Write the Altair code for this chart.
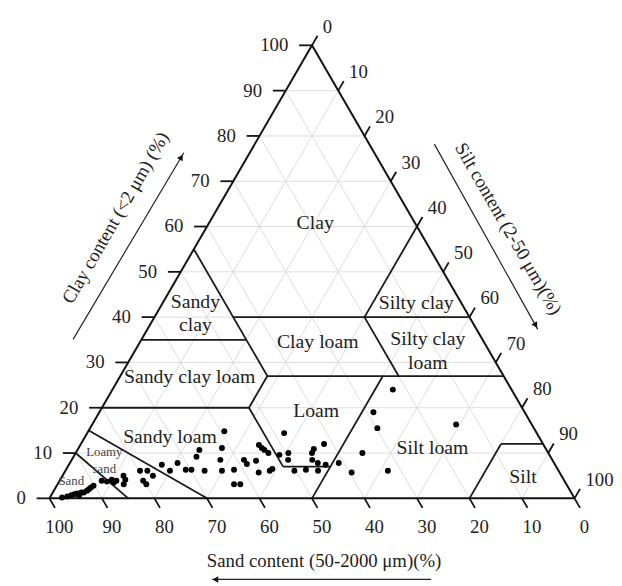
import altair as alt
import pandas as pd

# ---------------- data ----------------
# soil samples: clay and silt content (%); sand = 100 - clay - silt
clay = [0.2, 0.7, 0.9, 0.7, 1.3, 1.3, 1.7, 2.4, 2.8, 1.1, 2.0, 0.4,
        3.9, 3.7, 4.1, 3.5, 3.9, 5.0, 4.1, 3.1,
        6.1, 6.1, 5.0, 3.9, 3.1, 7.4, 6.1, 7.8, 6.3, 6.3, 6.1, 10.7, 9.2,
        11.1, 8.5, 6.1, 6.3, 3.1, 3.1, 14.8, 8.5, 7.6, 8.3, 5.7, 6.1, 6.5,
        11.8, 11.1, 10.7, 10.0, 9.6, 10.0, 8.5, 14.4, 6.1, 6.3, 10.9, 10.0,
        8.5, 7.8, 6.1, 12.0, 7.4,
        24.0, 19.0, 15.5, 16.3, 10.0, 7.8, 5.7, 6.1]
silt = [2.3, 3.8, 4.3, 5.3, 5.4, 5.9, 6.3, 6.7, 7.0, 4.7, 6.5, 3.2,
        8.0, 9.1, 9.8, 10.5, 10.8, 11.6, 12.4, 12.6,
        14.2, 15.6, 17.2, 15.9, 16.9, 17.7, 19.9, 20.5, 22.8, 23.9, 26.5, 23.2, 23.4,
        27.3, 28.3, 29.8, 32.0, 33.6, 34.8, 25.9, 32.8, 33.8, 35.2, 37.0, 38.9, 39.2,
        34.0, 34.9, 35.6, 36.7, 39.0, 40.5, 41.2, 37.5, 43.6, 45.7, 44.9, 45.0,
        45.8, 47.2, 48.1, 46.3, 48.9,
        53.4, 52.2, 54.7, 69.3, 54.6, 51.2, 54.7, 61.4]

tick_values = [0, 10, 20, 30, 40, 50, 60, 70, 80, 90, 100]
grid_values = [10, 20, 30, 40, 50, 60, 70, 80, 90]

# texture class boundaries (silt %, clay %) start -> end
b_silt1 = [0, 15, 0, 40, 28, 40, 28, 0, 28, 41, 50, 0, 0, 80, 80]
b_clay1 = [55, 40, 35, 60, 27, 40, 20, 20, 20, 7, 27, 15, 10, 0, 12]
b_silt2 = [28, 60, 20, 40, 73, 53, 28, 28, 41, 50, 50, 30, 15, 80, 88]
b_clay2 = [27, 40, 35, 40, 27, 27, 27, 20, 7, 7, 0, 0, 0, 12, 12]

region_names = ["Clay", "Sandy\nclay", "Silty clay", "Clay loam", "Silty clay\nloam",
                "Sandy clay loam", "Loam", "Sandy loam", "Silt loam", "Silt"]
region_silt = [20.2, 6.1, 48.3, 33.8, 54.5, 13.3, 41.2, 16.2, 67.4, 87.8]
region_clay = [60.8, 43.4, 43.1, 34.6, 35.1, 26.8, 19.2, 13.5, 11.1, 4.8]

small_names = ["Loamy\nsand", "Sand"]
small_silt = [5.3, 2.2]
small_clay = [10.3, 3.9]

FONT = "Liberation Serif"
W, H = 532, 459


def tx(s, c):
    return s + c / 2.0


# ---------------- tables ----------------
pts = pd.DataFrame({"clay": clay, "silt": silt})
pts["sand"] = 100 - pts["clay"] - pts["silt"]
pts["x"] = pts["silt"] + pts["clay"] / 2
pts["y"] = pts["clay"]

grid_rows = []
for k in grid_values:
    grid_rows.append(dict(x=tx(0, k), y=k, x2=tx(100 - k, k), y2=k))          # clay
    grid_rows.append(dict(x=tx(k, 0), y=0, x2=tx(k, 100 - k), y2=100 - k))    # silt
    grid_rows.append(dict(x=tx(100 - k, 0), y=0, x2=tx(0, 100 - k), y2=100 - k))  # sand
grid = pd.DataFrame(grid_rows)

bnd = pd.DataFrame({
    "x": [tx(s, c) for s, c in zip(b_silt1, b_clay1)],
    "y": b_clay1,
    "x2": [tx(s, c) for s, c in zip(b_silt2, b_clay2)],
    "y2": b_clay2,
})

edges = pd.DataFrame({
    "x": [tx(0, 0), tx(100, 0), tx(0, 100)],
    "y": [0, 0, 100],
    "x2": [tx(100, 0), tx(0, 100), tx(0, 0)],
    "y2": [0, 100, 0],
})

tick_rows = []
for v in tick_values:
    # clay ticks (left edge, horizontal)
    tick_rows.append(dict(x=tx(0, v) - 2.45, y=v, x2=tx(0, v), y2=v))
    # sand ticks (base)
    bx = tx(100 - v, 0)
    tick_rows.append(dict(x=bx, y=0, x2=bx + 1.05, y2=-2.1))
    # silt ticks (right edge)
    sx, sy = tx(v, 100 - v), 100 - v
    tick_rows.append(dict(x=sx, y=sy, x2=sx + 1.05, y2=sy + 2.1))
ticks = pd.DataFrame(tick_rows)

clay_lab = pd.DataFrame({"x": [tx(0, v) - 4.5 for v in tick_values],
                         "y": tick_values, "t": [str(v) for v in tick_values]})
sand_lab = pd.DataFrame({"x": [tx(100 - v, 0) + 1.9 for v in tick_values],
                         "y": [-6.3] * len(tick_values), "t": [str(v) for v in tick_values]})
silt_lab = pd.DataFrame({"x": [tx(v, 100 - v) + 2.07 for v in tick_values],
                         "y": [100 - v + 4.1 for v in tick_values], "t": [str(v) for v in tick_values]})

reg = pd.DataFrame({"x": [tx(s, c) for s, c in zip(region_silt, region_clay)],
                    "y": region_clay, "t": region_names})
sreg = pd.DataFrame({"x": [tx(s, c) for s, c in zip(small_silt, small_clay)],
                     "y": small_clay, "t": small_names})

# axis titles and arrows (annotation positions in plot units)
titles = pd.DataFrame({"x": [12.6, 87.4], "y": [61.9, 59.5],
                       "t": ["Clay content (<2 μm) (%)", "Silt content (2-50 μm)(%)"],
                       "a": [300, 60]})
sand_title = pd.DataFrame({"x": [52.3], "y": [-13.8], "t": ["Sand content (50-2000 μm)(%)"]})
arrows = pd.DataFrame({"x": [4.5, 73.3, 72.7], "y": [35.1, 78.2, -17.9],
                       "x2": [25.6, 93.0, 31.0], "y2": [76.3, 37.3, -17.9]})
heads = pd.DataFrame({"x": [25.1, 92.6, 31.6], "y": [75.3, 38.2, -17.9], "a": [300, 60, 180]})

xs = alt.Scale(domain=[0, 100], nice=False, zero=False)
ys = alt.Scale(domain=[0, 100], nice=False, zero=False)
X = alt.X("x:Q", scale=xs, axis=None)
Y = alt.Y("y:Q", scale=ys, axis=None)


def seg(df, color, width):
    return alt.Chart(df).mark_rule(color=color, strokeWidth=width).encode(
        x=X, y=Y, x2="x2:Q", y2="y2:Q")


def txt(df, size, align="center", color="#222222", **kw):
    return alt.Chart(df).mark_text(font=FONT, fontSize=size, align=align,
                                   baseline="middle", color=color, **kw).encode(
        x=X, y=Y, text="t:N")


layers = [
    seg(grid, "#d9d9d9", 0.9),
    seg(bnd, "#1a1a1a", 1.8),
    seg(edges, "#111111", 2.0),
    seg(ticks, "#111111", 1.8),
    txt(clay_lab, 19, "right"),
    txt(sand_lab, 19, "center"),
    txt(silt_lab, 19, "left"),
    txt(reg, 20, "center", lineBreak="\n", lineHeight=24),
    txt(sreg, 13, "center", color="#444444", lineBreak="\n", lineHeight=18),
    alt.Chart(pts).mark_circle(size=36, color="black", opacity=1).encode(x=X, y=Y),
    alt.Chart(titles).mark_text(font=FONT, fontSize=19, align="center", baseline="middle",
                                color="#222222").encode(x=X, y=Y, text="t:N", angle=alt.Angle("a:Q", scale=None)),
    txt(sand_title, 19, "center"),
    seg(arrows, "#222222", 1.2),
    alt.Chart(heads).mark_point(shape="triangle-right", size=45, filled=True, color="#111111",
                                opacity=1).encode(x=X, y=Y, angle=alt.Angle("a:Q", scale=None)),
]

chart = alt.layer(*layers).properties(
    width=W, height=H,
    autosize=alt.AutoSizeParams(type="none"),
    padding={"left": 42, "top": 34, "right": 40, "bottom": 86},
).configure_view(strokeWidth=0)

chart.save("out.html", embed_options={"renderer": "svg", "actions": False})
